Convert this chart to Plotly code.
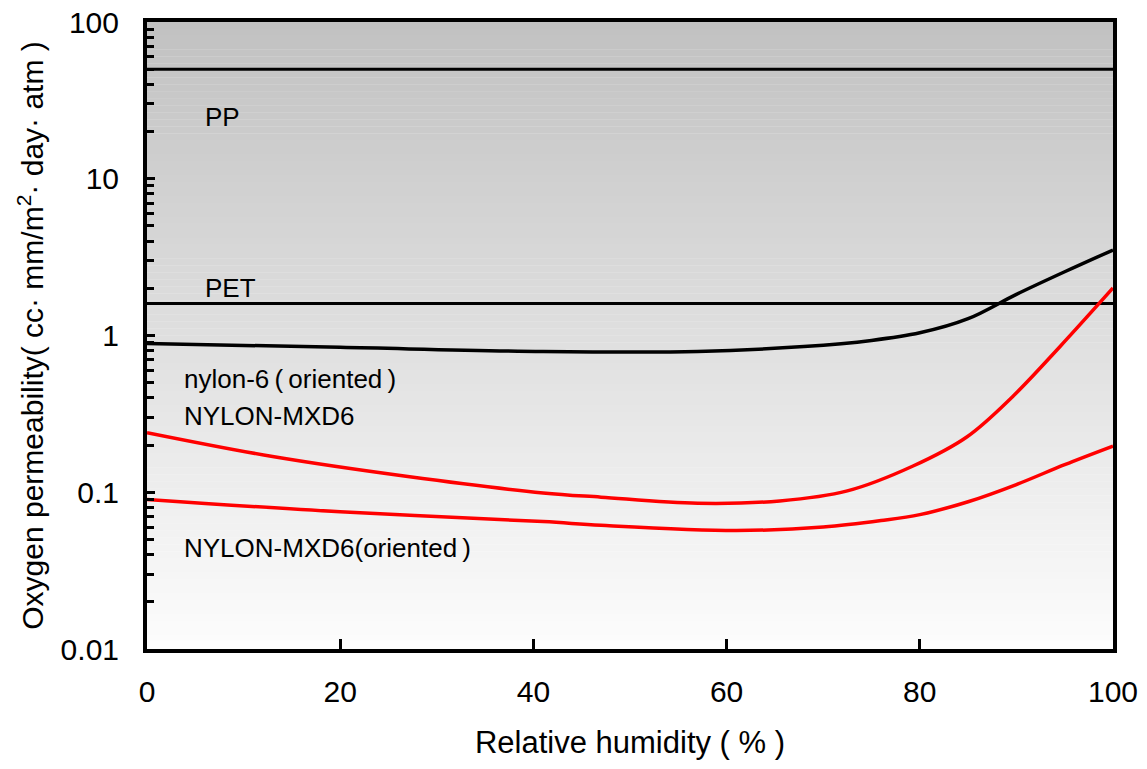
import plotly.graph_objects as go

# Relative humidity (%) and oxygen permeability (cc·mm/m²·day·atm)
rh_flat = [0, 100]
pp_perm = [50, 50]
pet_perm = [1.6, 1.6]

nylon6_rh = [0, 20, 41, 57, 68, 75, 80, 85, 90, 95, 100]
nylon6_perm = [0.89, 0.84, 0.79, 0.79, 0.85, 0.93, 1.04, 1.28, 1.83, 2.55, 3.51]

mxd6_rh = [0, 13, 27, 41, 47, 57, 65.5, 72.5, 79.3, 84.9, 89.6, 94.5, 100]
mxd6_perm = [0.240, 0.169, 0.126, 0.099, 0.093, 0.085, 0.088, 0.102, 0.147, 0.226, 0.407, 0.848, 2.01]

mxd6o_rh = [0, 20, 41, 47, 61, 70, 76, 80, 85, 90, 95, 100]
mxd6o_perm = [0.090, 0.075, 0.065, 0.0615, 0.057, 0.060, 0.066, 0.072, 0.087, 0.112, 0.150, 0.197]

y_ticks = [0.01, 0.1, 1, 10, 100]
y_ticktext = ["0.01", "0.1", "1", "10", "100"]
x_ticks = [0, 20, 40, 60, 80, 100]

FONT = "Liberation Sans, Arial, Noto Sans CJK JP, sans-serif"
THIN = "\u2009"

fig = go.Figure()

line_specs = [
    (rh_flat, pp_perm, "black", 3, "linear"),
    (rh_flat, pet_perm, "black", 3, "linear"),
    (nylon6_rh, nylon6_perm, "black", 3.5, "spline"),
    (mxd6_rh, mxd6_perm, "#ff0000", 3.5, "spline"),
    (mxd6o_rh, mxd6o_perm, "#ff0000", 3.5, "spline"),
]
for xs, ys, col, w, shape in line_specs:
    fig.add_trace(go.Scatter(
        x=xs, y=ys, mode="lines",
        line=dict(color=col, width=w, shape=shape, smoothing=1.0),
        showlegend=False, hoverinfo="skip",
    ))

# vertical gray-to-white gradient behind the plotting area
n_bands = 90
shapes = []
for i in range(n_bands):
    t0 = i / n_bands
    t1 = (i + 1) / n_bands
    g = int(round(193 + (253 - 193) * (t0 + t1) / 2))
    shapes.append(dict(
        type="rect", xref="paper", yref="paper",
        x0=0, x1=1, y0=1 - t1, y1=1 - t0 + 0.0005,
        fillcolor=f"rgb({g},{g},{g})", line=dict(width=0), layer="below",
    ))

minor_vals = [m * 10 ** e for e in range(-2, 2) for m in range(2, 10)]

labels = [
    ("PP", 5.8, 1.394),
    ("PET", 5.8, 0.303),
    (f"nylon-6{THIN}({THIN}oriented{THIN})", 3.6, -0.278),
    ("NYLON-MXD6", 3.6, -0.514),
    (f"NYLON-MXD6(oriented{THIN})", 3.6, -1.356),
]
annotations = [
    dict(text=t, x=x, y=y, xref="x", yref="y", showarrow=False,
         xanchor="left", yanchor="middle",
         font=dict(family=FONT, size=26, color="black"))
    for t, x, y in labels
]

fig.update_layout(
    width=1147, height=769,
    margin=dict(l=147, r=34, t=22, b=120),
    paper_bgcolor="white", plot_bgcolor="white",
    shapes=shapes, annotations=annotations,
    xaxis=dict(
        range=[0, 100], tickvals=x_ticks,
        ticks="inside", ticklen=10, tickwidth=3, tickcolor="black",
        showline=True, linewidth=4, linecolor="black", mirror=True,
        showgrid=False, zeroline=False, automargin=False,
        ticklabelstandoff=13,
        tickfont=dict(family=FONT, size=30, color="black"),
        title=dict(text="Relative humidity ( % )",
                   font=dict(family=FONT, size=31, color="black"), standoff=25),
    ),
    yaxis=dict(
        type="log", range=[-2, 2],
        tickvals=y_ticks, ticktext=y_ticktext,
        ticks="inside", ticklen=8, tickwidth=3, tickcolor="black",
        minor=dict(tickmode="array", tickvals=minor_vals, ticks="inside",
                   ticklen=7, tickwidth=2.5, tickcolor="black", showgrid=False),
        showline=True, linewidth=4, linecolor="black", mirror=True,
        showgrid=False, zeroline=False, automargin=False,
        ticklabelstandoff=18,
        tickfont=dict(family=FONT, size=30, color="black"),
        title=dict(text="Oxygen permeability( cc· mm/m<sup>2</sup>· day· atm )",
                   font=dict(family=FONT, size=30, color="black"), standoff=9),
    ),
)

fig.write_html("out.html")
